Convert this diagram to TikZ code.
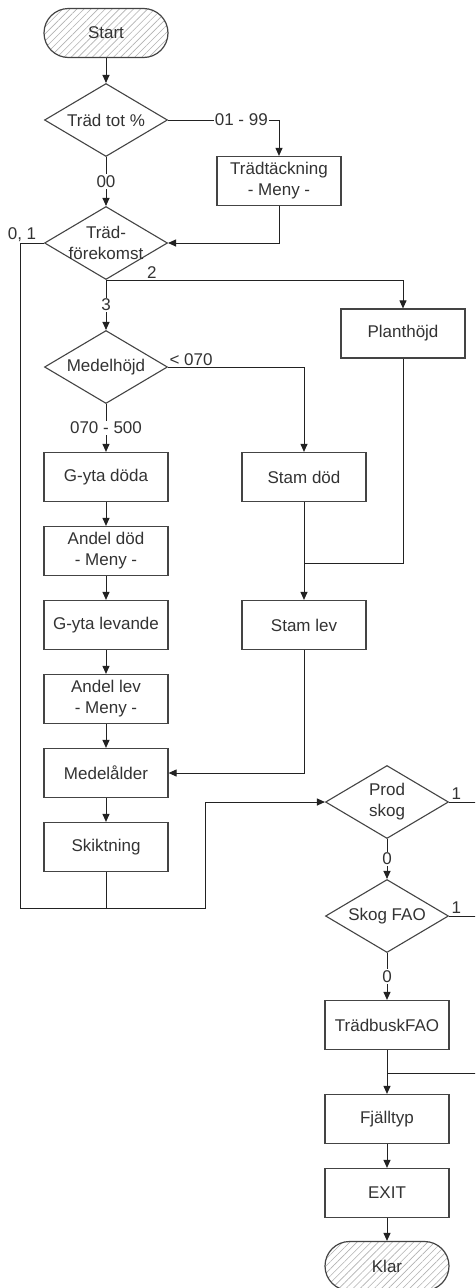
\documentclass[tikz,border=0pt]{standalone}
\usepackage{fontspec}
\setmainfont{Liberation Sans}
\usetikzlibrary{shapes.geometric,arrows.meta,patterns.meta}
\newcommand\chartfont{\fontsize{17}{21}\selectfont}
\definecolor{ink}{HTML}{333333}
\definecolor{edge}{HTML}{444444}
\definecolor{wire}{HTML}{222222}
\begin{document}
\begin{tikzpicture}[x=1pt,y=1pt,
  every node/.style={font=\chartfont, text=ink},
  proc/.style={rectangle, draw=edge, line width=1.2pt, minimum width=124pt,
    minimum height=49pt, inner sep=0pt, align=center},
  term/.style={proc, rounded corners=24.5pt,
    pattern={Lines[angle=45,distance=5pt,line width=0.6pt]}, pattern color=black!30},
  decision/.style={diamond, draw=edge, line width=1.1pt, minimum width=123pt,
    minimum height=73pt, inner sep=0pt},
  dtext/.style={align=center, inner sep=0pt},
  conn/.style={draw=wire, line width=1pt},
  arr/.style={conn, -{Triangle[length=8pt,width=7pt]}},
  lbl/.style={inner sep=2pt},
  onl/.style={lbl, fill=white, inner sep=1pt}]
\useasboundingbox (0,0) rectangle (475,-1288);
\clip (0,0) rectangle (475,-1288);
\fill[white] (0,0) rectangle (475,-1288);

% main column
\node[term] (start) at (106,-33) {Start};
\node[decision, label={[dtext]center:Träd tot \%}] (d1) at (106,-120) {};
\node[proc] (tt) at (279,-181) {Trädtäckning\\- Meny -};
\node[decision, label={[dtext]center:Träd-\\förekomst}] (d2) at (106,-243) {};
\node[proc] (ph) at (403,-333.5) {Planthöjd};
\node[decision, label={[dtext]center:Medelhöjd}] (d3) at (106,-367) {};
\node[proc] (gd) at (106,-477) {G-yta döda};
\node[proc] (ad) at (106,-551) {Andel död\\- Meny -};
\node[proc] (gl) at (106,-625) {G-yta levande};
\node[proc] (al) at (106,-699) {Andel lev\\- Meny -};
\node[proc] (ma) at (106,-773) {Medelålder};
\node[proc] (sk) at (106,-847) {Skiktning};

% stem branch
\node[proc] (sd) at (304,-477) {Stam död};
\node[proc] (sl) at (304,-625) {Stam lev};

% forest classification
\node[decision, label={[dtext]center:Prod\\skog}] (d5) at (387,-802) {};
\node[decision, label={[dtext]center:Skog FAO}] (d6) at (387,-916) {};
\node[proc] (tb) at (387,-1025) {TrädbuskFAO};
\node[proc] (fj) at (387,-1119) {Fjälltyp};
\node[proc] (ex) at (387,-1193) {EXIT};
\node[term] (klar) at (387,-1266) {Klar};

% junction points
\coordinate (lb) at (20,-908);
\coordinate (rb) at (205,-908);
\coordinate (m1) at (304,-563);
\coordinate (re) at (479,-1073);
\coordinate (m2) at (387,-1073);

% connectors
\draw[arr] (start) -- (d1);
\draw[arr] (d1) -- node[onl]{00} (d2);
\draw[arr] (d1.east) -| node[onl,pos=0.33]{01 - 99} (tt.north);
\draw[arr] (tt.south) |- (d2.east);
\draw[arr] (d2.west) -| node[lbl,pos=0.5,anchor=south,xshift=2pt,inner sep=1pt]{0, 1} (lb) -- (rb) |- (d5.west);
\draw[conn] (sk.south) -- (sk.south |- lb);
\draw[arr] (d2.south) -| node[lbl,pos=0.077,anchor=south,inner sep=1pt]{2} (ph.north);
\draw[arr] (d2.south) -- node[onl]{3} (d3.north);
\draw[arr] (d3.east) node[lbl,anchor=south west,inner sep=1pt]{< 070} -| (sd.north);
\draw[arr] (d3.south) -- node[onl]{070 - 500} (gd.north);
\draw[arr] (gd) -- (ad);
\draw[arr] (ad) -- (gl);
\draw[arr] (gl) -- (al);
\draw[arr] (al) -- (ma);
\draw[arr] (ma) -- (sk);
\draw[arr] (sd) -- (sl);
\draw[conn] (ph.south) |- (m1);
\draw[arr] (sl.south) |- (ma.east);
\draw[arr] (d5.south) -- node[onl]{0} (d6.north);
\draw[arr] (d6.south) -- node[onl]{0} (tb.north);
\draw[conn] (d5.east) node[lbl,anchor=south west,inner sep=2pt]{1} -| (re) -- (m2);
\draw[conn] (d6.east) node[lbl,anchor=south west,inner sep=2pt]{1} -- (d6.east -| re);
\draw[arr] (tb) -- (fj);
\draw[arr] (fj) -- (ex);
\draw[arr] (ex) -- (klar);
\end{tikzpicture}
\end{document}
